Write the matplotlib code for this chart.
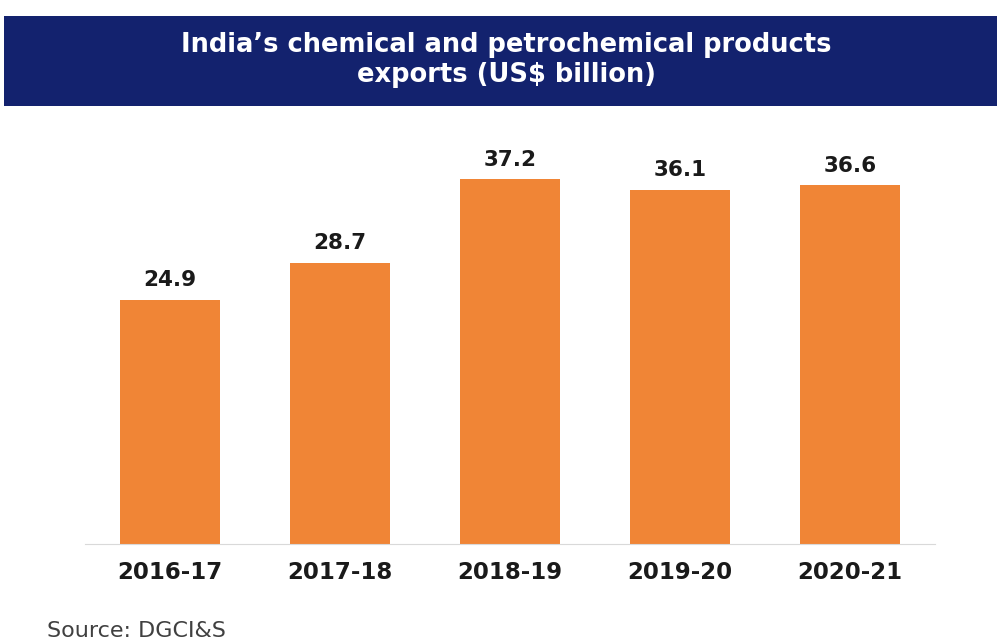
import matplotlib.pyplot as plt
from matplotlib.patches import Rectangle

# Data
years = ['2016-17', '2017-18', '2018-19', '2019-20', '2020-21']
exports = [24.9, 28.7, 37.2, 36.1, 36.6]

plt.rcParams['font.family'] = ['DejaVu Sans']

fig = plt.figure(figsize=(9.97, 6.42), dpi=100)
fig.patch.set_facecolor('white')

# Title banner
fig.patches.append(Rectangle((0.004, 1 - 106 / 642), 0.996, 90 / 642,
                             transform=fig.transFigure, facecolor='#13226e',
                             edgecolor='none', zorder=0))
fig.text(0.508, 1 - 60 / 642,
         "India\u2019s chemical and petrochemical products\nexports (US$ billion)",
         ha='center', va='center', color='white', fontsize=18.5,
         fontweight='bold', linespacing=1.2)

ax = fig.add_axes([0.0853, 0.1526, 0.8526, 0.6106])
x = range(len(years))
bars = ax.bar(x, exports, width=0.59, color='#f08536')

for b, v in zip(bars, exports):
    ax.text(b.get_x() + b.get_width() / 2, v + 1.0, f'{v}',
            ha='center', va='bottom', fontsize=15.5, fontweight='bold',
            color='#1a1a1a')

ax.set_xlim(-0.5, 4.5)
ax.set_ylim(0, 40)
ax.set_xticks(list(x))
ax.set_xticklabels(years, fontsize=16.5, fontweight='bold', color='#1a1a1a')
ax.tick_params(axis='x', length=0, pad=12)
ax.set_yticks([])
for s in ['top', 'right', 'left']:
    ax.spines[s].set_visible(False)
ax.spines['bottom'].set_color('#d9d9d9')

fig.text(0.047, 1 - 631 / 642, 'Source: DGCI&S', fontsize=16,
         color='#404040', ha='left', va='center')

plt.savefig('out.png', dpi=100, facecolor='white')
